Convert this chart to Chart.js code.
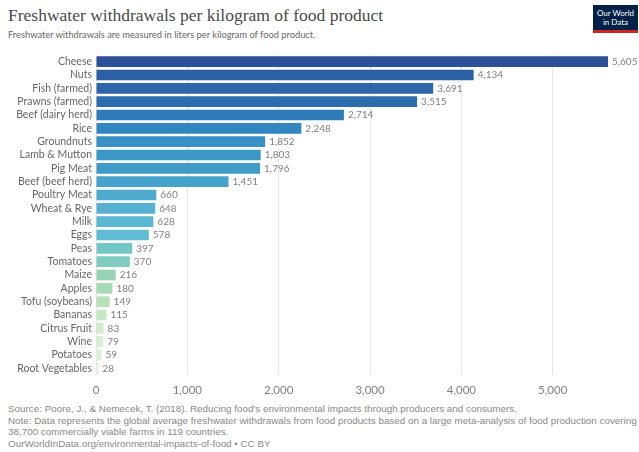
<!DOCTYPE html>
<html><head><meta charset="utf-8">
<script src="https://cdn.jsdelivr.net/npm/chart.js@4"></script>
<style>
html,body{margin:0;padding:0;background:#fff;width:639px;height:452px;overflow:hidden;font-family:Lato,"Noto Sans",sans-serif;}
#title{position:absolute;left:8px;top:5px;font-family:"Liberation Serif","DejaVu Serif",serif;font-size:17.5px;color:#4a4a4a;white-space:nowrap;}
#sub{position:absolute;left:8px;top:29px;font-size:9.3px;color:#666;white-space:nowrap;}
#logo{position:absolute;left:593px;top:5px;width:45px;height:28px;background:#002147;border-bottom:3px solid #ce261e;color:#fff;font-size:8px;line-height:9px;text-align:center;padding-top:4px;box-sizing:border-box;}
#wrap{position:absolute;left:0;top:0;width:639px;height:400px;}
.foot{position:absolute;left:8px;font-family:"Liberation Sans",Arial,sans-serif;font-size:9.85px;color:#888;white-space:nowrap;}
</style></head><body>
<div id="title">Freshwater withdrawals per kilogram of food product</div>
<div id="sub">Freshwater withdrawals are measured in liters per kilogram of food product.</div>
<div id="logo">Our World<br>in Data</div>
<div id="wrap"><canvas id="c" width="639" height="400"></canvas></div>
<div class="foot" style="top:403px">Source: Poore, J., &amp; Nemecek, T. (2018). Reducing food's environmental impacts through producers and consumers.</div>
<div class="foot" style="top:414.5px">Note: Data represents the global average freshwater withdrawals from food products based on a large meta-analysis of food production covering</div>
<div class="foot" style="top:426px">38,700 commercially viable farms in 119 countries.</div>
<div class="foot" style="top:437.5px">OurWorldInData.org/environmental-impacts-of-food • CC BY</div>
<script>
const categories = ["Cheese","Nuts","Fish (farmed)","Prawns (farmed)","Beef (dairy herd)","Rice","Groundnuts","Lamb & Mutton","Pig Meat","Beef (beef herd)","Poultry Meat","Wheat & Rye","Milk","Eggs","Peas","Tomatoes","Maize","Apples","Tofu (soybeans)","Bananas","Citrus Fruit","Wine","Potatoes","Root Vegetables"];
const values = [5605,4134,3691,3515,2714,2248,1852,1803,1796,1451,660,648,628,578,397,370,216,180,149,115,83,79,59,28];
const barColors = ["#2b5198","#2c5fa3","#2d66a9","#2b6daf","#2e7bbb","#3186c0","#3990c4","#3b97c6","#3f9bc8","#46a3cb","#4eaacc","#55b0d1","#5ab7d2","#5fbcd4","#72c7c6","#7ecdc0","#98d4b4","#a8dbb4","#b6e1b8","#c6e7c4","#d0ebcc","#d6eed2","#dbf0d6","#e4f4de"];
const tickValues = [0,1000,2000,3000,4000,5000];

const valueLabels = {
  id:'valueLabels',
  afterDatasetsDraw(chart){
    const ctx = chart.ctx, meta = chart.getDatasetMeta(0), area = chart.chartArea;
    ctx.save();
    ctx.font = '10px Lato, "Noto Sans", sans-serif';
    ctx.fillStyle = '#808080';
    ctx.textBaseline = 'middle';
    ctx.textAlign = 'left';
    meta.data.forEach((bar,i)=>{
      const x = Math.min(bar.x, area.right);
      ctx.fillText(values[i].toLocaleString('en-US'), x + 4, bar.y);
    });
    ctx.restore();
  }
};

new Chart(document.getElementById('c'), {
  type:'bar',
  data:{labels:categories, datasets:[{data:values, backgroundColor:barColors, borderWidth:0, barPercentage:0.8, categoryPercentage:1}]},
  options:{
    indexAxis:'y', responsive:false, animation:false,
    layout:{padding:{top:55, right:31, left:0, bottom:0}},
    plugins:{legend:{display:false}, tooltip:{enabled:false}},
    scales:{
      x:{min:0, max:5605, position:'bottom',
         afterBuildTicks(s){ s.ticks = tickValues.map(v=>({value:v})); },
         afterFit(s){ s.height = 25; },
         grid:{color:'#e6e6e6', drawTicks:false, lineWidth:1},
         border:{display:false},
         ticks:{padding:8, color:'#808080', font:{family:'Lato, "Noto Sans", sans-serif', size:11.5},
                callback:v=>Number(v).toLocaleString('en-US')}},
      y:{afterFit(s){ s.width = 96; },
         grid:{display:false, drawTicks:false},
         border:{display:false},
         ticks:{padding:4, autoSkip:false, color:'#666', font:{family:'Lato, "Noto Sans", sans-serif', size:10.5}}}
    }
  },
  plugins:[valueLabels]
});
</script>
</body></html>
